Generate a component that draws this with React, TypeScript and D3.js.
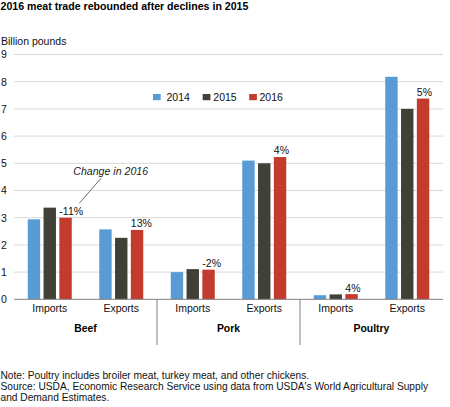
import React from "react";
import * as d3 from "d3";

const categories = ["Imports", "Exports", "Imports", "Exports", "Imports", "Exports"];
const groups = ["Beef", "Pork", "Poultry"];
const years = ["2014", "2015", "2016"];
const values2014 = [2.94, 2.57, 1.0, 5.1, 0.15, 8.18];
const values2015 = [3.37, 2.26, 1.11, 5.0, 0.18, 7.0];
const values2016 = [3.0, 2.55, 1.09, 5.23, 0.19, 7.38];
const changeLabels = ["-11%", "13%", "-2%", "4%", "4%", "5%"];
const yTicks = [0, 1, 2, 3, 4, 5, 6, 7, 8, 9];
const colors = ["#5b9bd5", "#404036", "#c23b2c"];

const W = 450;
const H = 407;
const FONT = "'Liberation Sans', Arial, Helvetica, sans-serif";

export default function App() {
  const series = [values2014, values2015, values2016];
  const x = d3.scaleBand<number>().domain(d3.range(categories.length)).range([14, 443]);
  const sub = d3.scaleBand<string>().domain(years).range([0, 44]).paddingInner(0.215);
  const y = d3.scaleLinear().domain([0, 9]).range([299.3, 54.5]);
  const groupX = (g: number) => (x(g * 2)! + x(g * 2 + 1)! + x.bandwidth()) / 2;
  const barX = (i: number, k: number) => x(i)! + x.bandwidth() / 2 - 22 + sub(years[k])!;

  const legendSq = [153, 202.7, 249.2];
  const legendTx = [166.5, 213.3, 259.5];

  return (
    <div style={{ position: "absolute", left: 0, top: 0 }}>
      <svg width={W} height={H} style={{ display: "block", fontFamily: FONT }}>
        <rect width={W} height={H} fill="#fff" />
        <text x={0.5} y={10.2} fontSize={10.6} fontWeight="bold" fill="#000">
          2016 meat trade rebounded after declines in 2015
        </text>
        <text x={1} y={45.3} fontSize={10.5} fill="#111">
          Billion pounds
        </text>
        {yTicks.map((t) => (
          <g key={t}>
            {t > 0 && (
              <line x1={14} x2={443} y1={y(t)} y2={y(t)} stroke="#d9d9d9" strokeWidth={1} />
            )}
            <text x={1} y={y(t) + 3.8} fontSize={10.5} fill="#111">
              {t}
            </text>
          </g>
        ))}
        {series.map((vals, k) =>
          vals.map((v, i) => (
            <rect
              key={`${k}-${i}`}
              x={barX(i, k)}
              y={y(v)}
              width={sub.bandwidth()}
              height={y(0) - y(v)}
              fill={colors[k]}
            />
          ))
        )}
        <line x1={14} x2={443} y1={y(0)} y2={y(0)} stroke="#808080" strokeWidth={1} />
        {[1, 2].map((g) => (
          <line key={g} x1={x(g * 2)!} x2={x(g * 2)!} y1={y(0)} y2={345} stroke="#808080" strokeWidth={1} />
        ))}
        {changeLabels.map((lab, i) => (
          <text key={i} x={barX(i, 2)} y={y(values2016[i]) - 2.6} fontSize={10.5} fill="#111">
            {lab}
          </text>
        ))}
        {categories.map((c, i) => (
          <text key={i} x={x(i)! + x.bandwidth() / 2} y={312.3} fontSize={10.5} textAnchor="middle" fill="#111">
            {c}
          </text>
        ))}
        {groups.map((g, gi) => (
          <text key={g} x={groupX(gi)} y={331.6} fontSize={10.4} fontWeight="bold" textAnchor="middle" fill="#000">
            {g}
          </text>
        ))}
        {years.map((yr, k) => (
          <g key={yr}>
            <rect x={legendSq[k]} y={94} width={7.7} height={6.2} fill={colors[k]} />
            <text x={legendTx[k]} y={100.6} fontSize={10.5} fill="#111">
              {yr}
            </text>
          </g>
        ))}
        <text x={73.3} y={175} fontSize={10.6} fontStyle="italic" fill="#222">
          Change in 2016
        </text>
        <line x1={101} y1={178.3} x2={79.3} y2={203.3} stroke="#444" strokeWidth={0.8} />
        <text x={0.5} y={378.7} fontSize={10.2} fill="#111">
          Note: Poultry includes broiler meat, turkey meat, and other chickens.
        </text>
        <text x={0.5} y={390} fontSize={10.2} fill="#111">
          Source: USDA, Economic Research Service using data from USDA's World Agricultural Supply
        </text>
        <text x={0.5} y={401.2} fontSize={10.2} fill="#111">
          and Demand Estimates.
        </text>
      </svg>
    </div>
  );
}
